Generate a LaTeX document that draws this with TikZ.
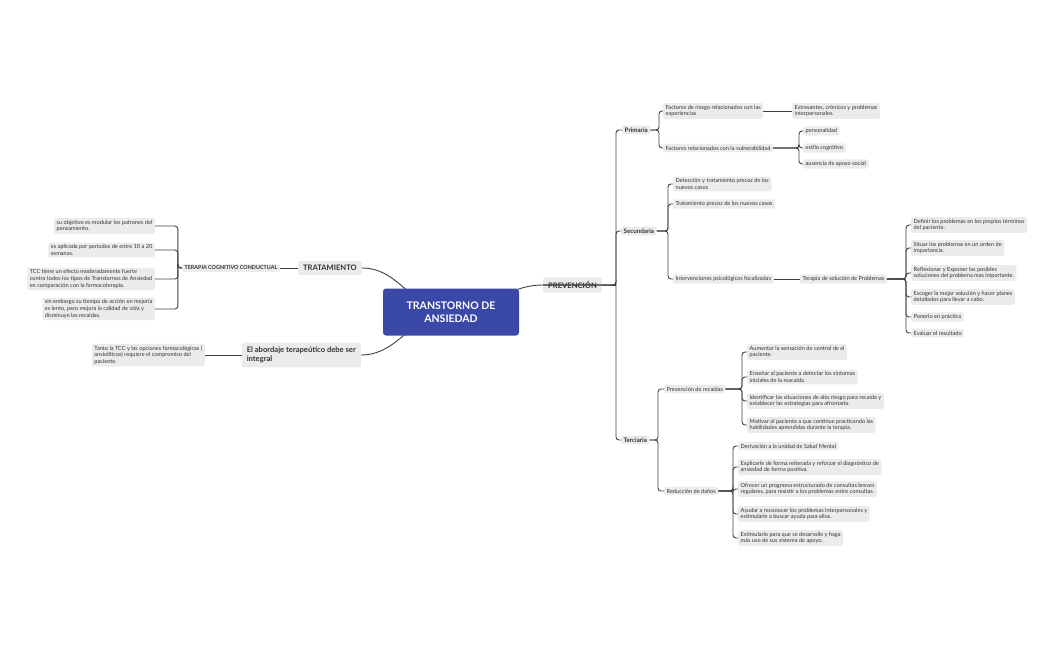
\documentclass[tikz,border=0pt]{standalone}
\usepackage{fontspec}
\setmainfont{Lato}
\usetikzlibrary{backgrounds}
\definecolor{boxg}{HTML}{EBEBEB}
\definecolor{lin}{HTML}{404040}
\definecolor{cblue}{HTML}{3A48A8}
\begin{document}
\begin{tikzpicture}[x=1pt,y=-1pt,
  b/.style={fill=boxg,rounded corners=2pt,inner xsep=2.5pt,inner ysep=2pt,font=\fontsize{5.6}{6.6}\selectfont,align=left,text=black!80},
  h/.style={b,font=\fontsize{6.2}{7.5}\selectfont\bfseries},
  m/.style={b,font=\fontsize{7.6}{9.5}\selectfont\bfseries,inner xsep=5pt,inner ysep=4pt},
  ln/.style={draw=lin,line width=0.9pt},
  br/.style={ln,rounded corners=3pt}]
\useasboundingbox (0,0) rectangle (1051,650);
\node[fill=cblue,rounded corners=3pt,text=white,minimum width=136pt,minimum height=47pt,align=center,font=\fontsize{10.5}{13}\selectfont\bfseries] (c) at (451,312) {TRANSTORNO DE\\ANSIEDAD};
\node[m,anchor=west] (prev) at (543,285) {PREVENCIÓN};
\node[m,anchor=east] (trat) at (362,268) {TRATAMIENTO};
\node[m,anchor=east] (abor) at (361,355) {El abordaje terapeútico debe ser\\integral};
\begin{scope}[on background layer]
\draw[ln] (c.center) to[out=0,in=180] (prev.west);
\draw[ln] (trat.east) to[out=0,in=180] (c.center);
\draw[ln] (abor.east) to[out=0,in=180] (c.center);
\end{scope}
% left
\node[h,anchor=east,font=\fontsize{5.4}{6.5}\selectfont\bfseries] (tcc) at (280,268) {TERAPIA COGNITIVO CONDUCTUAL};
\draw[ln] (trat.west) -- (tcc.east);
\node[b,anchor=east] (l1) at (155,226) {su objetivo es modular los patrones del\\pensamiento.};
\node[b,anchor=east] (l2) at (155,250) {es aplicada por periodos de entre 10 a 20\\semanas.};
\node[b,anchor=east] (l3) at (155,279) {TCC tiene un efecto moderadamente fuerte\\contra todos los tipos de Transtornos de Ansiedad\\en comparación con la farmacoterapia.};
\node[b,anchor=east] (l4) at (155,309) {sin embargo su tiempo de acción en mejoría\\es lento, pero mejora la calidad de vida y\\disminuye las recaídas.};
\foreach \n in {l1,l2,l3,l4} \draw[br] (tcc.west) -| ++(-4,0) |- (\n.east);
\node[b,anchor=east] (ab1) at (205,355) {Tanto la TCC  y las opciones farmacológicas (\\ansiolíticos) requiere el compromiso del\\paciente.};
\draw[ln] (abor.west) -- (ab1.east);
% prevention
\node[h,anchor=west] (pri) at (622,130) {Primaria};
\node[h,anchor=west] (sec) at (621,231) {Secundaria};
\node[h,anchor=west] (ter) at (621,440) {Terciaria};
\foreach \n in {pri,sec,ter} \draw[br] (prev.west) -- ++(3,0) -| (616,285) |- (\n.west);
\draw[ln] (prev.east) -- ++(3,0) -- (616,285);
\node[b,anchor=west] (p1) at (663,111) {Factores de riesgo relacionados con las\\experiencias};
\node[b,anchor=west] (p2) at (663,148) {Factores relacionados con la vulnerabilidad};
\foreach \n in {p1,p2} \draw[br] (pri.east) -- (659,130) |- (\n.west);
\node[b,anchor=west] (p11) at (792,111) {Estresantes, crónicos y problemas\\interpersonales.};
\draw[ln] (p1.east) -- (p11.west);
\node[b,anchor=west] (v1) at (803,131) {personalidad};
\node[b,anchor=west] (v2) at (803,148) {estilo cognitivo};
\node[b,anchor=west] (v3) at (803,164) {ausencia de apoyo social};
\foreach \n in {v1,v2,v3} \draw[br] (p2.east) -- (799,148) |- (\n.west);
\node[b,anchor=west] (s1) at (673,184) {Detección y tratamiento precoz de los\\nuevos casos};
\node[b,anchor=west] (s2) at (673,204) {Tratamiento precoz de los nuevos casos};
\node[b,anchor=west] (s3) at (673,279) {Intervenciones psicológicas focalizadas};
\foreach \n in {s1,s2,s3} \draw[br] (sec.east) -- (668,231) |- (\n.west);
\node[b,anchor=west] (tsp) at (800,279) {Terapia de solución de Problemas};
\draw[ln] (s3.east) -- (tsp.west);
\node[b,anchor=west] (t1) at (911,225) {Definir los problemas en los propios términos\\del paciente.};
\node[b,anchor=west] (t2) at (911,248) {Situar los problemas en un orden de\\importancia.};
\node[b,anchor=west] (t3) at (911,273) {Reflexionar y Exponer las posibles\\soluciones del problema mas importante.};
\node[b,anchor=west] (t4) at (911,297) {Escoger la mejor solución y hacer planes\\detallados para llevar a cabo.};
\node[b,anchor=west] (t5) at (911,317) {Ponerlo en práctica};
\node[b,anchor=west] (t6) at (911,333) {Evaluar el resultado};
\foreach \n in {t1,t2,t3,t4,t5,t6} \draw[br] (tsp.east) -- (906,279) |- (\n.west);
\node[b,anchor=west] (r1) at (664,389) {Prevención de recaídas};
\node[b,anchor=west] (r2) at (664,491) {Reducción de daños};
\foreach \n in {r1,r2} \draw[br] (ter.east) -- (658,440) |- (\n.west);
\node[b,anchor=west] (a1) at (747,352) {Aumentar la sensación de control de el\\paciente.};
\node[b,anchor=west] (a2) at (747,377) {Enseñar al paciente a detectar los síntomas\\iniciales de la reacaida.};
\node[b,anchor=west] (a3) at (747,401) {Identificar las situaciones de alto riesgo para recaída y\\establecer las estrategias para afrontarla.};
\node[b,anchor=west] (a4) at (747,425) {Motivar al paciente a que continue practicando las\\habilidades aprendidas durante la terapia.};
\foreach \n in {a1,a2,a3,a4} \draw[br] (r1.east) -- (742,389) |- (\n.west);
\node[b,anchor=west] (d1) at (738,446) {Derivación a la unidad de Salud Mental};
\node[b,anchor=west] (d2) at (738,467) {Explicarle de forma reiterada y reforzar el diagnóstico de\\ansiedad de forma positiva.};
\node[b,anchor=west] (d3) at (738,489) {Ofrecer un programa estructurado de consultas breves\\regulares, para resistir a los problemas entre consultas.};
\node[b,anchor=west] (d4) at (738,514) {Ayudar a reconocer los problemas interpersonales y\\estimularle a buscar ayuda para ellos.};
\node[b,anchor=west] (d5) at (738,538) {Estimularlo para que se desarrolle y haga\\más uso de sus sistema de apoyo.};
\foreach \n in {d1,d2,d3,d4,d5} \draw[br] (r2.east) -- (733,491) |- (\n.west);
\end{tikzpicture}
\end{document}
